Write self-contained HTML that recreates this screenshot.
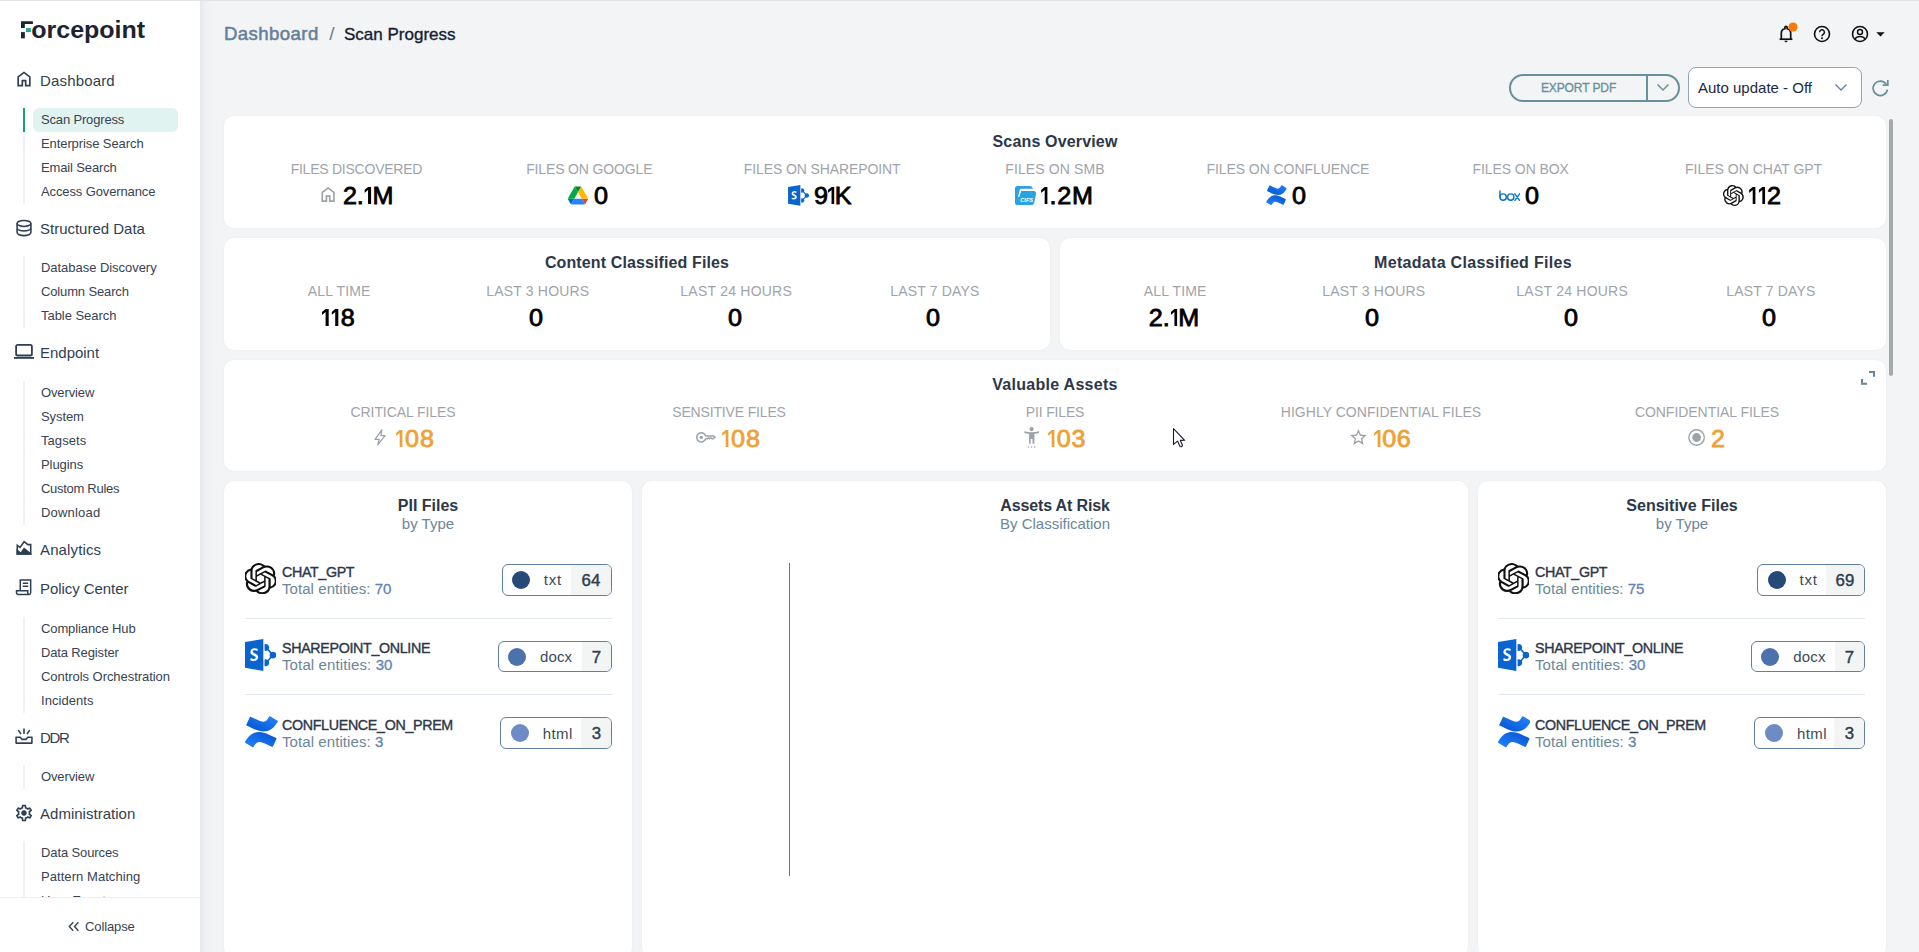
<!DOCTYPE html>
<html>
<head>
<meta charset="utf-8">
<title>Scan Progress</title>
<style>
*{box-sizing:border-box;margin:0;padding:0}
html,body{width:1919px;height:952px;overflow:hidden;background:#f3f4f6;font-family:"Liberation Sans",sans-serif;color:#2d3a4a}
body{position:relative}
.abs{position:absolute}
#topline{left:0;top:0;width:1919px;height:1px;background:#e3e3e3}
/* sidebar */
#side{left:0;top:1px;width:200px;height:951px;background:#fff}
#sideshadow{left:200px;top:1px;width:14px;height:951px;background:linear-gradient(to right,#e7e8ee 0,#eff0f4 40%,#f3f4f6 100%)}
.nav{position:absolute;left:0;width:200px;height:24px;line-height:24px;font-size:15px;color:#2f3f53;white-space:nowrap}
.nav span{position:absolute;left:40px;top:1px}
.nav svg{position:absolute}
.sub{position:absolute;left:41px;height:24px;line-height:24px;margin-top:1px;font-size:13px;color:#374353;white-space:nowrap}
.vl{position:absolute;left:23px;width:2px;background:#eef1f6}
/* cards */
.card{position:absolute;background:#fff;border-radius:10px;box-shadow:0 0 3px rgba(0,0,0,0.045)}
.ttl{position:absolute;left:0;right:0;text-align:center;font-weight:bold;font-size:16px;color:#2d3748;white-space:nowrap;line-height:20px}
.sttl{position:absolute;left:0;right:0;text-align:center;font-size:15px;color:#6b8799;white-space:nowrap;line-height:18px}
.lbl{position:absolute;width:300px;text-align:center;font-size:14px;line-height:18px;color:#a0a4aa;white-space:nowrap}
.val{position:absolute;font-size:23.5px;line-height:28px;color:#000;-webkit-text-stroke:0.8px #000;white-space:nowrap;transform:scaleX(1.07);transform-origin:0 0}
.val.c{width:300px;text-align:center;transform-origin:50% 0}
.val.o{color:#eea13a;-webkit-text-stroke-color:#eea13a}
.val .one{margin:0 -2.5px 0 -2px}
.nm{position:absolute;font-size:15.5px;line-height:18px;color:#2d3748;white-space:nowrap;transform:scaleX(0.92);transform-origin:0 0;-webkit-text-stroke:0.4px #2d3748}
.te{position:absolute;font-size:15.5px;line-height:18px;color:#6b8799;white-space:nowrap;transform:scaleX(0.97);transform-origin:0 0}
.te b{color:#6285b0;letter-spacing:0;font-weight:normal;-webkit-text-stroke:0.3px #6285b0}
.badge{position:absolute;border:1px solid #5f7fa3;border-radius:6px;background:#fff;overflow:hidden;white-space:nowrap;font-size:15px;color:#3a4a5c}
.badge i{position:absolute;width:18px;height:18px;border-radius:50%}
.badge .t{position:absolute;top:0}
.badge .n{position:absolute;right:0;top:0;bottom:0;background:#f3f5f5;text-align:center;font-size:16px;color:#2f3e4e;-webkit-text-stroke:0.400px #2f3e4e}
.badge .n span{display:inline-block;transform:scaleX(1.05);position:relative;top:1px}
.hr{position:absolute;left:21px;right:21px;height:1px;background:#e2e8f0}
</style>
</head>
<body>
<div id="topline" class="abs"></div>
<div id="side" class="abs"></div>
<div id="sideshadow" class="abs"></div>
<!--SIDEBAR-->
<!-- logo -->
<svg class="abs" style="left:20px;top:18px" width="130" height="30" viewBox="0 0 130 30">
<path d="M1 3.200H12.900V6.100H4.850V10.100H1Z" fill="#1c2430"/>
<rect x="1" y="14.100" width="3.850" height="6.250" fill="#1c2430"/>
<rect x="5.900" y="10.100" width="5" height="4" fill="#1fa898"/>
<text x="11.200" y="20.350" font-family="Liberation Sans, sans-serif" font-weight="bold" font-size="24.800" fill="#1c2430" textLength="114" lengthAdjust="spacingAndGlyphs">orcepoint</text>
</svg>
<!-- nav groups -->
<div class="nav" style="top:68px"><svg style="left:14px;top:1px" width="20" height="20" viewBox="0 0 24 24"><path fill="#2f3f53" d="M6 19h3v-6h6v6h3v-9l-6-4.5L6 10Zm-2 2V9l8-6 8 6v12h-7v-6h-2v6Z"/></svg><span style="letter-spacing:0.16px">Dashboard</span></div>
<div class="vl" style="top:108px;height:96px"></div>
<div class="abs" style="left:23px;top:108px;width:2px;height:24px;background:#169c85"></div>
<div class="abs" style="left:33px;top:108px;width:145px;height:24px;border-radius:6px;background:#e0f3f1"></div>
<div class="sub" style="top:107px;letter-spacing:-0.16px">Scan Progress</div>
<div class="sub" style="top:131px;letter-spacing:-0.09px">Enterprise Search</div>
<div class="sub" style="top:155px;letter-spacing:-0.14px">Email Search</div>
<div class="sub" style="top:179px;letter-spacing:-0.12px">Access Governance</div>

<div class="nav" style="top:216px"><svg style="left:14px;top:2px" width="20" height="20" viewBox="0 0 24 24" fill="none" stroke="#2f3f53" stroke-width="1.9"><ellipse cx="12" cy="6.5" rx="8.3" ry="3.6"/><path d="M3.700 6.5v11c0 2 3.700 3.600 8.300 3.600s8.300-1.600 8.300-3.600v-11M3.700 12c0 2 3.700 3.600 8.300 3.600s8.300-1.600 8.300-3.600"/></svg><span style="letter-spacing:-0.01px">Structured Data</span></div>
<div class="vl" style="top:256px;height:72px"></div>
<div class="sub" style="top:255px;letter-spacing:-0.04px">Database Discovery</div>
<div class="sub" style="top:279px;letter-spacing:-0.14px">Column Search</div>
<div class="sub" style="top:303px;letter-spacing:-0.04px">Table Search</div>

<div class="nav" style="top:340px"><svg style="left:14px;top:3px" width="20" height="17" viewBox="0 0 20 17"><rect x="2.100" y="1.900" width="15.800" height="10.600" rx="1.600" fill="none" stroke="#2f3f53" stroke-width="1.800"/><rect x="0" y="14" width="20" height="1.800" fill="#2f3f53"/></svg><span style="letter-spacing:-0.02px">Endpoint</span></div>
<div class="vl" style="top:381px;height:144px"></div>
<div class="sub" style="top:380px;letter-spacing:-0.13px">Overview</div>
<div class="sub" style="top:404px;letter-spacing:-0.08px">System</div>
<div class="sub" style="top:428px;letter-spacing:0.07px">Tagsets</div>
<div class="sub" style="top:452px;letter-spacing:-0.07px">Plugins</div>
<div class="sub" style="top:476px;letter-spacing:-0.29px">Custom Rules</div>
<div class="sub" style="top:500px;letter-spacing:0.20px">Download</div>

<div class="nav" style="top:537px"><svg style="left:14px;top:1px" width="20" height="20" viewBox="0 0 24 24"><path fill="none" stroke="#2f3f53" stroke-width="1.900" d="M3.950 8.900 7.200 11.300 12.200 4.400 16.700 7.950H20.050V19.050H3.950Z"/><path fill="#2f3f53" d="M3 13v7h18v-1.500l-9-7L8 17l-5-4z"/></svg><span style="letter-spacing:0.13px">Analytics</span></div>

<div class="nav" style="top:576px"><svg style="left:14px;top:1px" width="20" height="20" viewBox="0 0 24 24" fill="none" stroke="#2f3f53" stroke-width="1.800"><path d="M7.500 16.500V3.500h12.500v15.500a2 2 0 0 1-2 2H5a2 2 0 0 1-2-2v-2.500h13.500V19a1.800 1.800 0 0 0 1.800 2"/><path d="M10.500 7.500h6.500M10.500 11h6.500"/></svg><span style="letter-spacing:-0.06px">Policy Center</span></div>
<div class="vl" style="top:617px;height:96px"></div>
<div class="sub" style="top:616px;letter-spacing:-0.11px">Compliance Hub</div>
<div class="sub" style="top:640px;letter-spacing:-0.14px">Data Register</div>
<div class="sub" style="top:664px;letter-spacing:-0.05px">Controls Orchestration</div>
<div class="sub" style="top:688px;letter-spacing:0.05px">Incidents</div>

<div class="nav" style="top:725px"><svg style="left:14px;top:1px" width="20" height="20" viewBox="0 0 24 24" fill="none" stroke="#2f3f53" stroke-width="1.900" stroke-linecap="round"><path d="M2.500 13.500h5l2 2.500h5l2-2.500h5v7h-19z" stroke-linejoin="round"/><path d="M12 3.500v5.500M5.500 5.500l2.500 3.700M18.500 5.500l-2.500 3.700"/></svg><span style="letter-spacing:-1.28px">DDR</span></div>
<div class="vl" style="top:765px;height:24px"></div>
<div class="sub" style="top:764px;letter-spacing:-0.13px">Overview</div>

<div class="nav" style="top:801px"><svg style="left:14px;top:2px" width="20" height="20" viewBox="0 0 24 24"><path fill="#2f3f53" d="M19.430 12.980c.040-.320.070-.640.070-.980 0-.340-.030-.660-.070-.980l2.110-1.650c.190-.150.240-.420.120-.640l-2-3.460c-.090-.160-.260-.250-.440-.250-.060 0-.120.010-.170.030l-2.490 1c-.520-.400-1.080-.730-1.690-.980l-.380-2.650C14.460 2.180 14.250 2 14 2h-4c-.250 0-.460.180-.490.420l-.380 2.650c-.610.250-1.170.590-1.690.980l-2.490-1c-.060-.020-.120-.030-.180-.030-.170 0-.340.090-.430.250l-2 3.460c-.130.220-.070.490.120.640l2.110 1.650c-.040.320-.070.650-.070.980 0 .330.030.660.070.980l-2.110 1.650c-.190.150-.240.420-.120.640l2 3.460c.090.160.260.250.440.250.060 0 .120-.010.170-.030l2.490-1c.520.400 1.080.730 1.690.980l.380 2.650c.030.240.240.420.490.420h4c.250 0 .460-.180.490-.420l.380-2.650c.610-.250 1.170-.590 1.690-.980l2.490 1c.060.020.120.030.180.030.170 0 .340-.090.430-.250l2-3.460c.120-.220.070-.490-.120-.640l-2.110-1.650zm-1.980-1.710c.040.310.050.520.050.730 0 .210-.020.430-.050.730l-.140 1.130.890.700 1.080.840-.700 1.210-1.270-.510-1.040-.420-.900.680c-.430.320-.840.560-1.250.730l-1.060.430-.160 1.130-.200 1.350h-1.400l-.190-1.350-.160-1.130-1.060-.430c-.430-.180-.830-.410-1.230-.710l-.910-.700-1.060.430-1.270.510-.700-1.210 1.080-.840.890-.700-.140-1.130c-.030-.310-.050-.540-.050-.740s.020-.430.050-.730l.140-1.130-.890-.700-1.080-.840.700-1.210 1.270.510 1.040.420.900-.680c.430-.320.840-.560 1.250-.730l1.060-.430.160-1.130.200-1.350h1.390l.190 1.350.160 1.130 1.060.430c.430.180.830.410 1.230.710l.910.700 1.060-.430 1.270-.510.700 1.210-1.070.850-.890.700.140 1.130z"/><circle cx="12" cy="12" r="3.200" fill="#2f3f53"/></svg><span style="letter-spacing:0.02px">Administration</span></div>
<div class="vl" style="top:841px;height:56px"></div>
<div class="sub" style="top:840px;letter-spacing:-0.11px">Data Sources</div>
<div class="sub" style="top:864px;letter-spacing:0.06px">Pattern Matching</div>
<div class="abs" style="left:41px;top:888px;width:140px;height:9px;overflow:hidden"><div class="sub" style="left:0;top:0;letter-spacing:0.06px">User Events</div></div>
<div class="abs" style="left:0;top:897px;width:200px;height:1px;background:#eaedf5"></div>
<div class="abs" style="left:0;top:898px;width:200px;height:54px;background:#fff"></div>
<div class="sub" style="left:85px;top:914px;letter-spacing:-0.11px">Collapse</div>
<svg class="abs" style="left:68px;top:921px" width="12" height="11" viewBox="0 0 12 11" fill="none" stroke="#374353" stroke-width="1.400"><path d="M5.200 1.200 1.300 5.500l3.900 4.300M10.400 1.200 6.500 5.500l3.900 4.300"/></svg>
<!--/SIDEBAR-->
<!--HEADER-->
<div class="abs" id="bc1" style="left:224px;top:20.600px;font-size:18.600px;letter-spacing:0.420px;line-height:26px;color:#64809a;white-space:nowrap;-webkit-text-stroke:0.500px #64809a">Dashboard</div>
<div class="abs" id="bc2" style="left:329.300px;top:21px;font-size:19px;line-height:26px;color:#64809a;white-space:nowrap">/</div>
<div class="abs" id="bc3" style="left:344px;top:22px;font-size:17px;line-height:26px;color:#161d33;white-space:nowrap;-webkit-text-stroke:0.350px #161d33">Scan Progress</div>
<!-- bell -->
<svg class="abs" style="left:1776px;top:23px;overflow:visible" width="20" height="22" viewBox="0 0 20 22"><path d="M5.300 16.200V10.300a4.700 4.700 0 0 1 3.600-4.700V4.500a1.100 1.100 0 0 1 2.200 0v1.100a4.700 4.700 0 0 1 3.600 4.700v5.900" fill="none" stroke="#111" stroke-width="1.700"/><path d="M3.600 16.200h12.800" stroke="#111" stroke-width="1.700"/><path d="M8.500 17.800h3a1.500 1.500 0 0 1-3 0z" fill="#111"/><circle cx="17" cy="4" r="4.600" fill="#fb7a09"/></svg>
<!-- help -->
<svg class="abs" style="left:1812px;top:24px" width="20" height="20" viewBox="0 0 20 20"><circle cx="10" cy="10" r="7.500" fill="none" stroke="#111" stroke-width="1.600"/><path d="M7.600 8.200a2.400 2.400 0 1 1 3.600 2.100c-.8.500-1.200 1-1.200 1.900" fill="none" stroke="#111" stroke-width="1.500"/><circle cx="10" cy="14.200" r="1" fill="#111"/></svg>
<!-- account -->
<svg class="abs" style="left:1850px;top:24px" width="20" height="20" viewBox="0 0 20 20"><circle cx="10" cy="10" r="7.500" fill="none" stroke="#111" stroke-width="1.600"/><circle cx="10" cy="8" r="2.500" fill="none" stroke="#111" stroke-width="1.500"/><path d="M4.800 15.200c1.200-2 3-2.800 5.200-2.800s4 .8 5.200 2.800" fill="none" stroke="#111" stroke-width="1.500"/></svg>
<svg class="abs" style="left:1875.700px;top:32px" width="9" height="5" viewBox="0 0 9 5"><path d="M0.300 0.300h8.400L4.500 4.600z" fill="#111"/></svg>
<!-- export -->
<div class="abs" style="left:1509px;top:74px;width:171px;height:28px;border:2px solid #66909b;border-radius:14px"></div>
<div class="abs" style="left:1646px;top:75px;width:2px;height:26px;background:#66909b"></div>
<div class="abs" id="exp" style="left:1511px;top:74px;width:135px;height:28px;line-height:28px;text-align:center;font-size:12px;letter-spacing:-0.100px;color:#66909b;white-space:nowrap;-webkit-text-stroke:0.300px #66909b">EXPORT PDF</div>
<svg class="abs" style="left:1656px;top:83px" width="14" height="9" viewBox="0 0 14 9"><path d="M1.500 1.500 7 7l5.500-5.500" fill="none" stroke="#66909b" stroke-width="1.500"/></svg>
<!-- select -->
<div class="abs" style="left:1688px;top:67px;width:174px;height:41px;border:1px solid #93a3ba;border-radius:8px;background:#fff"></div>
<div class="abs" id="au" style="left:1698px;top:67px;height:41px;line-height:41px;font-size:15px;color:#1c2745;white-space:nowrap">Auto update - Off</div>
<svg class="abs" style="left:1834px;top:83px" width="14" height="9" viewBox="0 0 14 9"><path d="M1.500 1.500 7 7l5.500-5.500" fill="none" stroke="#66809a" stroke-width="1.300"/></svg>
<!-- refresh -->
<svg class="abs" style="left:1870px;top:78px" width="20" height="20" viewBox="0 0 20 20"><path d="M16.200 6.200A7.200 7.200 0 1 0 17.400 11.600" fill="none" stroke="#66909b" stroke-width="1.700"/><path d="M17.800 2v5.200h-5.200" fill="none" stroke="#66909b" stroke-width="1.700"/></svg>
<!-- scrollbar -->
<div class="abs" style="left:1889px;top:119px;width:4px;height:257px;border-radius:2px;background:#a4aaa9"></div>
<!--/HEADER-->
<!--CARDS-->
<div class="card" style="left:224px;top:116px;width:1662px;height:112px">
<div class="ttl" style="top:16px;letter-spacing:0.16px">Scans Overview</div>
<div class="lbl" style="left:-17.6px;top:43.6px;letter-spacing:-0.24px">FILES DISCOVERED</div>
<svg class="abs" style="left:97.0px;top:71.0px" width="14.2" height="15.0" viewBox="4 3 16 18" ><path fill="#9ca2a8" d="M6 19h3v-6h6v6h3v-9l-6-4.500L6 10Zm-2 2V9l8-6 8 6v12h-7v-6h-2v6Z"/></svg>
<div class="val" style="left:118.85px;top:65.86px"><span style="margin-right:-0.15px">2</span><span style="margin-right:-0.15px">.</span><svg width="6.3" height="17.100" viewBox="0 0 6.300 17.100" style="margin:0 0.85px 0 1.0px"><path fill="currentColor" d="M3.400 0H6.300V17.100H3.400V3.100L0 5.900V2.900Z"/></svg>M</div>
<div class="lbl" style="left:215.3px;top:43.6px;letter-spacing:-0.14px">FILES ON GOOGLE</div>
<svg class="abs" style="left:343.9px;top:70.0px" width="20.0" height="19.0" viewBox="0 0 87.3 78" ><path d="m6.600 66.850 3.850 6.650c.8 1.400 1.950 2.500 3.300 3.300l13.750-23.800h-27.500c0 1.550.4 3.100 1.200 4.500z" fill="#0066da"/><path d="m43.650 25-13.750-23.800c-1.350.8-2.500 1.900-3.300 3.300l-25.400 44a9.060 9.060 0 0 0 -1.200 4.500h27.500z" fill="#00ac47"/><path d="m73.550 76.800c1.350-.8 2.500-1.900 3.300-3.300l1.600-2.750 7.650-13.250c.8-1.400 1.200-2.950 1.200-4.500h-27.502l5.852 11.500z" fill="#ea4335"/><path d="m43.650 25 13.750-23.800c-1.350-.8-2.900-1.200-4.500-1.200h-18.500c-1.600 0-3.150.45-4.500 1.200z" fill="#00832d"/><path d="m59.800 53h-32.300l-13.750 23.800c1.350.8 2.900 1.200 4.500 1.200h50.800c1.600 0 3.150-.45 4.500-1.200z" fill="#2684fc"/><path d="m73.400 26.500-12.700-22c-.8-1.400-1.950-2.500-3.300-3.300l-13.750 23.800 16.150 28h27.450c0-1.550-.4-3.100-1.200-4.500z" fill="#ffba00"/></svg>
<div class="val" style="left:369.67px;top:65.86px">0</div>
<div class="lbl" style="left:448.1px;top:43.6px;letter-spacing:-0.11px">FILES ON SHAREPOINT</div>
<svg class="abs" style="left:563.9px;top:68.9px" width="21.1" height="21.0" viewBox="0 0 21 21" ><path d="M0 1.970 12.300 0v20.840L0 18.830z" fill="#0a64cf"/><path d="M13.120 3.450A2.230 2.230 0 1 1 13.120 7.570z" fill="#0a64cf"/><path d="M13.120 13.430A2.230 2.230 0 1 1 13.120 17.550z" fill="#0a64cf"/><circle cx="18.770" cy="10.500" r="2.230" fill="#0a64cf"/><path d="M14.800 6.200l3.600 4M14.800 14.800l3.600-4" stroke="#0a64cf" stroke-width="1.050" fill="none"/><path d="M7.700 7.900c-.5-.3-1.200-.5-1.900-.5-.8 0-1.200.3-1.200.8 0 .6.500.8 1.500 1.200 1.300.5 2.100 1.200 2.100 2.500 0 1.600-1.300 2.500-3 2.500-.9 0-1.700-.2-2.300-.6l.4-1.400c.6.300 1.300.6 2 .6.800 0 1.300-.4 1.300-.9s-.4-.8-1.400-1.200C3.900 10.400 3 9.700 3 8.500 3 7 4.200 6 5.900 6c.9 0 1.600.2 2.100.5z" fill="#fff" transform="translate(.6 0)"/></svg>
<div class="val" style="left:590.25px;top:65.86px"><span style="margin-right:-1.00px">9</span><svg width="6.3" height="17.100" viewBox="0 0 6.300 17.100" style="margin:0 0.00px 0 1.0px"><path fill="currentColor" d="M3.400 0H6.300V17.100H3.400V3.100L0 5.900V2.900Z"/></svg>K</div>
<div class="lbl" style="left:681.0px;top:43.6px;letter-spacing:0.12px">FILES ON SMB</div>
<svg class="abs" style="left:791.0px;top:70.0px" width="21.0" height="19.0" viewBox="0 0 21 19" ><path d="M2.600 0H15c1.400 0 2.400 1 2.900 2.800V5h.7c1.600 0 2.700 1.300 2.400 2.900l-1.700 8.500c-.3 1.500-1.400 2.600-3 2.600H2.600A2.600 2.600 0 0 1 0 16.400V2.600A2.600 2.600 0 0 1 2.600 0z" fill="#2aa2e6"/><path d="M18.200 2.800H6.500c-1 0-1.600.6-1.900 1.600L3.100 10.300c-.1.500.2.800.6.800s.7-.3.800-.7L6.200 5h12z" fill="#fff"/><text x="11.700" y="16" text-anchor="middle" font-family="Liberation Sans, sans-serif" font-weight="bold" font-style="italic" font-size="5.600" fill="#fff">CIFS</text></svg>
<div class="val" style="left:816.33px;top:65.86px"><svg width="6.3" height="17.100" viewBox="0 0 6.300 17.100" style="margin:0 1.70px 0 1.0px"><path fill="currentColor" d="M3.400 0H6.300V17.100H3.400V3.100L0 5.900V2.900Z"/></svg><span style="margin-right:0.70px">.</span><span style="margin-right:0.70px">2</span>M</div>
<div class="lbl" style="left:913.9px;top:43.6px;letter-spacing:-0.06px">FILES ON CONFLUENCE</div>
<svg class="abs" style="left:1042.0px;top:69.2px" width="20.9" height="20.4" viewBox="0 0 24 24" ><defs><linearGradient id="cg1" x1="0" y1="1" x2="1" y2="0"><stop offset="0" stop-color="#2684ff"/><stop offset="1" stop-color="#0052cc"/></linearGradient><linearGradient id="cg2" x1="1" y1="0" x2="0" y2="1"><stop offset="0" stop-color="#2684ff"/><stop offset="1" stop-color="#0052cc"/></linearGradient></defs><path fill="url(#cg1)" d="M.87 18.257c-.248.382-.53.875-.763 1.245a.764.764 0 0 0 .255 1.040l4.965 3.054a.764.764 0 0 0 1.058-.26c.199-.332.454-.763.733-1.221 1.967-3.247 3.945-2.853 7.508-1.146l4.957 2.337a.764.764 0 0 0 1.028-.382l2.364-5.346a.764.764 0 0 0-.382-1 599.851 599.851 0 0 1-4.965-2.361C10.911 10.970 5.224 11.185.870 18.257z"/><path fill="url(#cg2)" d="M23.131 5.743c.249-.405.531-.875.764-1.250a.764.764 0 0 0-.256-1.034L18.675.404a.764.764 0 0 0-1.058.26c-.195.335-.451.763-.734 1.225-1.966 3.246-3.945 2.850-7.508 1.146L4.437.694a.764.764 0 0 0-1.027.382L1.046 6.422a.764.764 0 0 0 .382 1c1.039.490 3.105 1.467 4.965 2.361 6.698 3.246 12.392 3.029 16.738-4.040z"/></svg>
<div class="val" style="left:1068.16px;top:65.86px">0</div>
<div class="lbl" style="left:1146.7px;top:43.6px;letter-spacing:-0.08px">FILES ON BOX</div>
<svg class="abs" style="left:1274.7px;top:73.8px" width="21.5" height="11.2" viewBox="0 0 22 11.500" ><g fill="none" stroke="#0e79c5" stroke-width="1.500" stroke-linecap="round"><path d="M.9 .9v6.500"/><circle cx="4.200" cy="7.300" r="3.300"/><circle cx="12" cy="7.300" r="3.300"/><path d="M16.300 4l4.800 6.600M21.100 4l-4.800 6.600"/></g></svg>
<div class="val" style="left:1300.66px;top:65.86px">0</div>
<div class="lbl" style="left:1379.6px;top:43.6px;letter-spacing:-0.00px">FILES ON CHAT GPT</div>
<svg class="abs" style="left:1499.0px;top:69.0px" width="21.0" height="21.0" viewBox="0.8 0 22.600 24" ><path fill="#111" d="M22.2819 9.8211a5.9847 5.9847 0 0 0-.5157-4.9108 6.0462 6.0462 0 0 0-6.5098-2.9A6.0651 6.0651 0 0 0 4.9807 4.1818a5.9847 5.9847 0 0 0-3.9977 2.9 6.0462 6.0462 0 0 0 .7427 7.0966 5.98 5.98 0 0 0 .511 4.9107 6.051 6.051 0 0 0 6.5146 2.9001A5.9847 5.9847 0 0 0 13.2599 24a6.0557 6.0557 0 0 0 5.7718-4.2058 5.9894 5.9894 0 0 0 3.9977-2.9001 6.0557 6.0557 0 0 0-.7475-7.0729zm-9.022 12.6081a4.4755 4.4755 0 0 1-2.8764-1.0408l.1419-.0804 4.7783-2.7582a.7948.7948 0 0 0 .3927-.6813v-6.7369l2.02 1.1686a.071.071 0 0 1 .038.052v5.5826a4.504 4.504 0 0 1-4.4945 4.4944zm-9.6607-4.1254a4.4708 4.4708 0 0 1-.5346-3.0137l.142.0852 4.783 2.7582a.7712.7712 0 0 0 .7806 0l5.8428-3.3685v2.3324a.0804.0804 0 0 1-.0332.0615L9.74 19.9502a4.4992 4.4992 0 0 1-6.1408-1.6464zM2.3408 7.8956a4.485 4.485 0 0 1 2.3655-1.9728V11.6a.7664.7664 0 0 0 .3879.6765l5.8144 3.3543-2.0201 1.1685a.0757.0757 0 0 1-.071 0l-4.8303-2.7865A4.504 4.504 0 0 1 2.3408 7.872zm16.5963 3.8558L13.1038 8.364 15.1192 7.2a.0757.0757 0 0 1 .071 0l4.8303 2.7913a4.4944 4.4944 0 0 1-.6765 8.1042v-5.6772a.79.79 0 0 0-.407-.667zm2.0107-3.0231l-.142-.0852-4.7735-2.7818a.7759.7759 0 0 0-.7854 0L9.409 9.2297V6.8974a.0662.0662 0 0 1 .0284-.0615l4.8303-2.7866a4.4992 4.4992 0 0 1 6.6802 4.66zM8.3065 12.863l-2.02-1.1638a.0804.0804 0 0 1-.038-.0567V6.0742a4.4992 4.4992 0 0 1 7.3757-3.4537l-.142.0805L8.704 5.459a.7948.7948 0 0 0-.3927.6813zm1.0976-2.3654l2.602-1.4998 2.6069 1.4998v2.9994l-2.5974 1.4997-2.6067-1.4997Z"/></svg>
<div class="val" style="left:1524.43px;top:65.86px"><svg width="6.3" height="17.100" viewBox="0 0 6.300 17.100" style="margin:0 1.63px 0 1.0px"><path fill="currentColor" d="M3.400 0H6.300V17.100H3.400V3.100L0 5.900V2.900Z"/></svg><svg width="6.3" height="17.100" viewBox="0 0 6.300 17.100" style="margin:0 1.63px 0 1.0px"><path fill="currentColor" d="M3.400 0H6.300V17.100H3.400V3.100L0 5.900V2.900Z"/></svg>2</div>

</div>
<div class="card" style="left:224px;top:238px;width:826px;height:112px">
<div class="ttl" style="top:15px;letter-spacing:0.12px">Content Classified Files</div>
<div class="lbl" style="left:-34.8px;top:43.6px;letter-spacing:0.16px">ALL TIME</div>
<div class="val c" style="left:-36.5px;top:66.36px"><svg width="6.3" height="17.100" viewBox="0 0 6.300 17.100" style="margin:0 1.90px 0 1.0px"><path fill="currentColor" d="M3.400 0H6.300V17.100H3.400V3.100L0 5.900V2.900Z"/></svg><svg width="6.3" height="17.100" viewBox="0 0 6.300 17.100" style="margin:0 1.90px 0 1.0px"><path fill="currentColor" d="M3.400 0H6.300V17.100H3.400V3.100L0 5.900V2.900Z"/></svg>8</div>
<div class="lbl" style="left:163.8px;top:43.6px;letter-spacing:0.19px">LAST 3 HOURS</div>
<div class="val c" style="left:162.1px;top:66.36px">0</div>
<div class="lbl" style="left:362.2px;top:43.6px;letter-spacing:0.23px">LAST 24 HOURS</div>
<div class="val c" style="left:360.6px;top:66.36px">0</div>
<div class="lbl" style="left:560.8px;top:43.6px;letter-spacing:0.16px">LAST 7 DAYS</div>
<div class="val c" style="left:559.0px;top:66.36px">0</div>

</div>
<div class="card" style="left:1060px;top:238px;width:826px;height:112px">
<div class="ttl" style="top:15px;letter-spacing:0.30px">Metadata Classified Files</div>
<div class="lbl" style="left:-34.8px;top:43.6px;letter-spacing:0.16px">ALL TIME</div>
<div class="val c" style="left:-36.5px;top:66.36px"><span style="margin-right:-0.15px">2</span><span style="margin-right:-0.15px">.</span><svg width="6.3" height="17.100" viewBox="0 0 6.300 17.100" style="margin:0 0.85px 0 1.0px"><path fill="currentColor" d="M3.400 0H6.300V17.100H3.400V3.100L0 5.900V2.900Z"/></svg>M</div>
<div class="lbl" style="left:163.8px;top:43.6px;letter-spacing:0.19px">LAST 3 HOURS</div>
<div class="val c" style="left:162.1px;top:66.36px">0</div>
<div class="lbl" style="left:362.2px;top:43.6px;letter-spacing:0.23px">LAST 24 HOURS</div>
<div class="val c" style="left:360.6px;top:66.36px">0</div>
<div class="lbl" style="left:560.8px;top:43.6px;letter-spacing:0.16px">LAST 7 DAYS</div>
<div class="val c" style="left:559.0px;top:66.36px">0</div>

</div>
<div class="card" style="left:224px;top:360px;width:1662px;height:111px">
<div class="ttl" style="top:15px;letter-spacing:0.28px">Valuable Assets</div>
<div class="lbl" style="left:29.0px;top:43px;letter-spacing:-0.08px">CRITICAL FILES</div>
<svg class="abs" style="left:149.5px;top:69.0px" width="12.3" height="17.0" viewBox="0 0 12.500 17" ><path d="M8 .8 1 10.300h4.300L3.800 16 11.300 6.600H7z" fill="none" stroke="#9ca2a8" stroke-width="1.300" stroke-linejoin="round"/></svg>
<div class="val o" style="left:171.03px;top:64.86px"><svg width="6.3" height="17.100" viewBox="0 0 6.300 17.100" style="margin:0 1.95px 0 1.0px"><path fill="currentColor" d="M3.400 0H6.300V17.100H3.400V3.100L0 5.900V2.900Z"/></svg><span style="margin-right:0.95px">0</span>8</div>
<div class="lbl" style="left:355.0px;top:43px;letter-spacing:-0.16px">SENSITIVE FILES</div>
<svg class="abs" style="left:472.2px;top:72.2px" width="20.0" height="10.7" viewBox="0 0 20 10.700" ><path d="M9.700 3.900a4.600 4.600 0 1 0 0 2.900h1.500l1.200-1.100 1.200 1.100 1.200-1.100 1.200 1.100h.9L19 5.400l-1.700-1.500z" fill="none" stroke="#9ca2a8" stroke-width="1.500" stroke-linejoin="round"/><circle cx="5.300" cy="5.350" r="1.700" fill="#9ca2a8"/></svg>
<div class="val o" style="left:496.83px;top:64.86px"><svg width="6.3" height="17.100" viewBox="0 0 6.300 17.100" style="margin:0 1.95px 0 1.0px"><path fill="currentColor" d="M3.400 0H6.300V17.100H3.400V3.100L0 5.900V2.900Z"/></svg><span style="margin-right:0.95px">0</span>8</div>
<div class="lbl" style="left:681.0px;top:43px;letter-spacing:-0.15px">PII FILES</div>
<svg class="abs" style="left:800.0px;top:67.0px" width="15.2" height="21.0" viewBox="0 0 15 21" ><circle cx="7.500" cy="2.100" r="2.100" fill="#9ca2a8"/><path d="M.3 4.300c2.400.6 4.800.9 7.200.9s4.800-.3 7.200-.9l.4 1.700c-1.600.4-3.200.7-4.800.9v9.900H8.400v-4.700H6.600v4.700H5V6.900C3.400 6.700 1.800 6.400.2 6z" fill="#9ca2a8"/><rect x="3.700" y="19.400" width="1.300" height="1.300" fill="#9ca2a8"/><rect x="6.850" y="19.400" width="1.300" height="1.300" fill="#9ca2a8"/><rect x="10" y="19.400" width="1.300" height="1.300" fill="#9ca2a8"/></svg>
<div class="val o" style="left:823.23px;top:64.86px"><svg width="6.3" height="17.100" viewBox="0 0 6.300 17.100" style="margin:0 1.76px 0 1.0px"><path fill="currentColor" d="M3.400 0H6.300V17.100H3.400V3.100L0 5.900V2.900Z"/></svg><span style="margin-right:0.76px">0</span>3</div>
<div class="lbl" style="left:1007.0px;top:43px;letter-spacing:0.03px">HIGHLY CONFIDENTIAL FILES</div>
<svg class="abs" style="left:1125.9px;top:69.1px" width="16.9" height="15.9" viewBox="2 2 20 19" ><path fill="#9ca2a8" d="m22 9.240-7.190-.62L12 2 9.190 8.630 2 9.240l5.460 4.730L5.820 21 12 17.270 18.180 21l-1.630-7.030L22 9.240zM12 15.400l-3.760 2.270 1-4.280-3.320-2.880 4.380-.38L12 6.100l1.710 4.040 4.380.38-3.320 2.880 1 4.280L12 15.400z"/></svg>
<div class="val o" style="left:1149.33px;top:64.86px"><svg width="6.3" height="17.100" viewBox="0 0 6.300 17.100" style="margin:0 1.39px 0 1.0px"><path fill="currentColor" d="M3.400 0H6.300V17.100H3.400V3.100L0 5.900V2.900Z"/></svg><span style="margin-right:0.39px">0</span>6</div>
<div class="lbl" style="left:1333.0px;top:43px;letter-spacing:-0.04px">CONFIDENTIAL FILES</div>
<svg class="abs" style="left:1463.6px;top:69.1px" width="17.2" height="17.0" viewBox="0 0 17 17" ><circle cx="8.500" cy="8.500" r="7.700" fill="none" stroke="#9ca2a8" stroke-width="1.400"/><circle cx="8.500" cy="8.500" r="4.400" fill="#9ca2a8"/></svg>
<div class="val o" style="left:1487.35px;top:64.86px">2</div>
<svg class="abs" style="left:1630px;top:5px" width="26" height="26" viewBox="1630 5 26 26" fill="none" stroke="#6a8797" stroke-width="2"><path d="M1645 12h5v4.800M1638 19v4.800h5"/></svg>
</div>
<div class="card" style="left:224px;top:481px;width:408px;height:476px">
<div class="ttl" style="top:15px;letter-spacing:-0.01px">PII Files</div><div class="sttl" style="top:34px">by Type</div>
<svg class="abs" style="left:21.2px;top:82.0px" width="31.3" height="31.3" viewBox="0.8 0 22.600 24" preserveAspectRatio="none"><path fill="#111" d="M22.2819 9.8211a5.9847 5.9847 0 0 0-.5157-4.9108 6.0462 6.0462 0 0 0-6.5098-2.9A6.0651 6.0651 0 0 0 4.9807 4.1818a5.9847 5.9847 0 0 0-3.9977 2.9 6.0462 6.0462 0 0 0 .7427 7.0966 5.98 5.98 0 0 0 .511 4.9107 6.051 6.051 0 0 0 6.5146 2.9001A5.9847 5.9847 0 0 0 13.2599 24a6.0557 6.0557 0 0 0 5.7718-4.2058 5.9894 5.9894 0 0 0 3.9977-2.9001 6.0557 6.0557 0 0 0-.7475-7.0729zm-9.022 12.6081a4.4755 4.4755 0 0 1-2.8764-1.0408l.1419-.0804 4.7783-2.7582a.7948.7948 0 0 0 .3927-.6813v-6.7369l2.02 1.1686a.071.071 0 0 1 .038.052v5.5826a4.504 4.504 0 0 1-4.4945 4.4944zm-9.6607-4.1254a4.4708 4.4708 0 0 1-.5346-3.0137l.142.0852 4.783 2.7582a.7712.7712 0 0 0 .7806 0l5.8428-3.3685v2.3324a.0804.0804 0 0 1-.0332.0615L9.74 19.9502a4.4992 4.4992 0 0 1-6.1408-1.6464zM2.3408 7.8956a4.485 4.485 0 0 1 2.3655-1.9728V11.6a.7664.7664 0 0 0 .3879.6765l5.8144 3.3543-2.0201 1.1685a.0757.0757 0 0 1-.071 0l-4.8303-2.7865A4.504 4.504 0 0 1 2.3408 7.872zm16.5963 3.8558L13.1038 8.364 15.1192 7.2a.0757.0757 0 0 1 .071 0l4.8303 2.7913a4.4944 4.4944 0 0 1-.6765 8.1042v-5.6772a.79.79 0 0 0-.407-.667zm2.0107-3.0231l-.142-.0852-4.7735-2.7818a.7759.7759 0 0 0-.7854 0L9.409 9.2297V6.8974a.0662.0662 0 0 1 .0284-.0615l4.8303-2.7866a4.4992 4.4992 0 0 1 6.6802 4.66zM8.3065 12.863l-2.02-1.1638a.0804.0804 0 0 1-.038-.0567V6.0742a4.4992 4.4992 0 0 1 7.3757-3.4537l-.142.0805L8.704 5.459a.7948.7948 0 0 0-.3927.6813zm1.0976-2.3654l2.602-1.4998 2.6069 1.4998v2.9994l-2.5974 1.4997-2.6067-1.4997Z"/></svg>
<div class="nm" style="left:57.8px;top:81.85px;letter-spacing:-0.39px">CHAT_GPT</div>
<div class="te" style="left:57.9px;top:98.93px;letter-spacing:0.05px">Total entities: <b>70</b></div>
<div class="badge" style="right:20.00px;top:83.0px;width:110px;height:32px"><i style="left:9px;top:6.0px;background:#264a78"></i><span class="t" style="left:40.8px;line-height:30.6px;letter-spacing:0.77px">txt</span><span class="n" style="width:40.1px;line-height:30.6px"><span>64</span></span></div>
<div class="hr" style="left:21.0px;right:20.00px;top:137px"></div>
<svg class="abs" style="left:21.2px;top:157.8px" width="31.3" height="32.2" viewBox="0 0 21 21" preserveAspectRatio="none"><path d="M0 1.970 12.300 0v20.840L0 18.830z" fill="#0a64cf"/><path d="M13.120 3.450A2.230 2.230 0 1 1 13.120 7.570z" fill="#0a64cf"/><path d="M13.120 13.430A2.230 2.230 0 1 1 13.120 17.550z" fill="#0a64cf"/><circle cx="18.770" cy="10.500" r="2.230" fill="#0a64cf"/><path d="M14.800 6.200l3.600 4M14.800 14.800l3.600-4" stroke="#0a64cf" stroke-width="1.050" fill="none"/><path d="M7.700 7.900c-.5-.3-1.200-.5-1.900-.5-.8 0-1.200.3-1.200.8 0 .6.500.8 1.500 1.200 1.300.5 2.100 1.200 2.100 2.500 0 1.600-1.300 2.500-3 2.500-.9 0-1.700-.2-2.300-.6l.4-1.400c.6.300 1.300.6 2 .6.800 0 1.300-.4 1.300-.9s-.4-.8-1.400-1.200C3.900 10.400 3 9.700 3 8.500 3 7 4.200 6 5.900 6c.9 0 1.600.2 2.100.5z" fill="#fff" transform="translate(.6 0)"/></svg>
<div class="nm" style="left:57.8px;top:158.45px;letter-spacing:-0.36px">SHAREPOINT_ONLINE</div>
<div class="te" style="left:57.9px;top:174.93px;letter-spacing:0.11px">Total entities: <b>30</b></div>
<div class="badge" style="right:20.00px;top:160.0px;width:114px;height:31px"><i style="left:9px;top:5.5px;background:#4c72ae"></i><span class="t" style="left:41.0px;line-height:29.6px;letter-spacing:0.14px">docx</span><span class="n" style="width:29.3px;line-height:29.6px"><span>7</span></span></div>
<div class="hr" style="left:21.0px;right:20.00px;top:213px"></div>
<svg class="abs" style="left:21.0px;top:235.3px" width="32.7" height="31.6" viewBox="0 0 24 24" preserveAspectRatio="none"><defs><linearGradient id="cg1" x1="0" y1="1" x2="1" y2="0"><stop offset="0" stop-color="#2684ff"/><stop offset="1" stop-color="#0052cc"/></linearGradient><linearGradient id="cg2" x1="1" y1="0" x2="0" y2="1"><stop offset="0" stop-color="#2684ff"/><stop offset="1" stop-color="#0052cc"/></linearGradient></defs><path fill="url(#cg1)" d="M.87 18.257c-.248.382-.53.875-.763 1.245a.764.764 0 0 0 .255 1.040l4.965 3.054a.764.764 0 0 0 1.058-.26c.199-.332.454-.763.733-1.221 1.967-3.247 3.945-2.853 7.508-1.146l4.957 2.337a.764.764 0 0 0 1.028-.382l2.364-5.346a.764.764 0 0 0-.382-1 599.851 599.851 0 0 1-4.965-2.361C10.911 10.970 5.224 11.185.870 18.257z"/><path fill="url(#cg2)" d="M23.131 5.743c.249-.405.531-.875.764-1.250a.764.764 0 0 0-.256-1.034L18.675.404a.764.764 0 0 0-1.058.26c-.195.335-.451.763-.734 1.225-1.966 3.246-3.945 2.850-7.508 1.146L4.437.694a.764.764 0 0 0-1.027.382L1.046 6.422a.764.764 0 0 0 .382 1c1.039.490 3.105 1.467 4.965 2.361 6.698 3.246 12.392 3.029 16.738-4.040z"/></svg>
<div class="nm" style="left:57.8px;top:235.35px;letter-spacing:-0.35px">CONFLUENCE_ON_PREM</div>
<div class="te" style="left:57.9px;top:251.83px;letter-spacing:0.07px">Total entities: <b>3</b></div>
<div class="badge" style="right:20.00px;top:236.0px;width:112px;height:32px"><i style="left:9.9px;top:6.0px;background:#6e8bc6"></i><span class="t" style="left:41.7px;line-height:32.2px;letter-spacing:0.43px">html</span><span class="n" style="width:30.0px;line-height:30.6px"><span>3</span></span></div>
</div>
<div class="card" style="left:642px;top:481px;width:826px;height:476px"><div class="ttl" style="top:15px;letter-spacing:-0.14px">Assets At Risk</div><div class="sttl" style="top:34px">By Classification</div><div class="abs" style="left:147px;top:82px;width:1px;height:313px;background:#6e7380"></div></div>
<div class="card" style="left:1478px;top:481px;width:408px;height:476px">
<div class="ttl" style="top:15px;letter-spacing:0.02px">Sensitive Files</div><div class="sttl" style="top:34px">by Type</div>
<svg class="abs" style="left:19.9px;top:82.0px" width="31.3" height="31.3" viewBox="0.8 0 22.600 24" preserveAspectRatio="none"><path fill="#111" d="M22.2819 9.8211a5.9847 5.9847 0 0 0-.5157-4.9108 6.0462 6.0462 0 0 0-6.5098-2.9A6.0651 6.0651 0 0 0 4.9807 4.1818a5.9847 5.9847 0 0 0-3.9977 2.9 6.0462 6.0462 0 0 0 .7427 7.0966 5.98 5.98 0 0 0 .511 4.9107 6.051 6.051 0 0 0 6.5146 2.9001A5.9847 5.9847 0 0 0 13.2599 24a6.0557 6.0557 0 0 0 5.7718-4.2058 5.9894 5.9894 0 0 0 3.9977-2.9001 6.0557 6.0557 0 0 0-.7475-7.0729zm-9.022 12.6081a4.4755 4.4755 0 0 1-2.8764-1.0408l.1419-.0804 4.7783-2.7582a.7948.7948 0 0 0 .3927-.6813v-6.7369l2.02 1.1686a.071.071 0 0 1 .038.052v5.5826a4.504 4.504 0 0 1-4.4945 4.4944zm-9.6607-4.1254a4.4708 4.4708 0 0 1-.5346-3.0137l.142.0852 4.783 2.7582a.7712.7712 0 0 0 .7806 0l5.8428-3.3685v2.3324a.0804.0804 0 0 1-.0332.0615L9.74 19.9502a4.4992 4.4992 0 0 1-6.1408-1.6464zM2.3408 7.8956a4.485 4.485 0 0 1 2.3655-1.9728V11.6a.7664.7664 0 0 0 .3879.6765l5.8144 3.3543-2.0201 1.1685a.0757.0757 0 0 1-.071 0l-4.8303-2.7865A4.504 4.504 0 0 1 2.3408 7.872zm16.5963 3.8558L13.1038 8.364 15.1192 7.2a.0757.0757 0 0 1 .071 0l4.8303 2.7913a4.4944 4.4944 0 0 1-.6765 8.1042v-5.6772a.79.79 0 0 0-.407-.667zm2.0107-3.0231l-.142-.0852-4.7735-2.7818a.7759.7759 0 0 0-.7854 0L9.409 9.2297V6.8974a.0662.0662 0 0 1 .0284-.0615l4.8303-2.7866a4.4992 4.4992 0 0 1 6.6802 4.66zM8.3065 12.863l-2.02-1.1638a.0804.0804 0 0 1-.038-.0567V6.0742a4.4992 4.4992 0 0 1 7.3757-3.4537l-.142.0805L8.704 5.459a.7948.7948 0 0 0-.3927.6813zm1.0976-2.3654l2.602-1.4998 2.6069 1.4998v2.9994l-2.5974 1.4997-2.6067-1.4997Z"/></svg>
<div class="nm" style="left:56.5px;top:81.85px;letter-spacing:-0.39px">CHAT_GPT</div>
<div class="te" style="left:56.6px;top:98.93px;letter-spacing:0.05px">Total entities: <b>75</b></div>
<div class="badge" style="right:20.71px;top:83.0px;width:108px;height:32px"><i style="left:9.8px;top:6.0px;background:#264a78"></i><span class="t" style="left:41.3px;line-height:30.6px;letter-spacing:0.77px">txt</span><span class="n" style="width:38.1px;line-height:30.6px"><span>69</span></span></div>
<div class="hr" style="left:19.7px;right:20.71px;top:137px"></div>
<svg class="abs" style="left:19.9px;top:157.8px" width="31.3" height="32.2" viewBox="0 0 21 21" preserveAspectRatio="none"><path d="M0 1.970 12.300 0v20.840L0 18.830z" fill="#0a64cf"/><path d="M13.120 3.450A2.230 2.230 0 1 1 13.120 7.570z" fill="#0a64cf"/><path d="M13.120 13.430A2.230 2.230 0 1 1 13.120 17.550z" fill="#0a64cf"/><circle cx="18.770" cy="10.500" r="2.230" fill="#0a64cf"/><path d="M14.800 6.200l3.600 4M14.800 14.800l3.600-4" stroke="#0a64cf" stroke-width="1.050" fill="none"/><path d="M7.700 7.900c-.5-.3-1.200-.5-1.900-.5-.8 0-1.200.3-1.200.8 0 .6.500.8 1.500 1.200 1.300.5 2.100 1.200 2.100 2.500 0 1.600-1.300 2.500-3 2.500-.9 0-1.700-.2-2.300-.6l.4-1.400c.6.300 1.300.6 2 .6.800 0 1.300-.4 1.300-.9s-.4-.8-1.400-1.200C3.900 10.400 3 9.700 3 8.500 3 7 4.200 6 5.900 6c.9 0 1.600.2 2.100.5z" fill="#fff" transform="translate(.6 0)"/></svg>
<div class="nm" style="left:56.5px;top:158.45px;letter-spacing:-0.36px">SHAREPOINT_ONLINE</div>
<div class="te" style="left:56.6px;top:174.93px;letter-spacing:0.11px">Total entities: <b>30</b></div>
<div class="badge" style="right:20.71px;top:160.0px;width:114px;height:31px"><i style="left:9px;top:5.5px;background:#4c72ae"></i><span class="t" style="left:41.0px;line-height:29.6px;letter-spacing:0.14px">docx</span><span class="n" style="width:29.3px;line-height:29.6px"><span>7</span></span></div>
<div class="hr" style="left:19.7px;right:20.71px;top:213px"></div>
<svg class="abs" style="left:19.7px;top:235.3px" width="32.7" height="31.6" viewBox="0 0 24 24" preserveAspectRatio="none"><defs><linearGradient id="cg1" x1="0" y1="1" x2="1" y2="0"><stop offset="0" stop-color="#2684ff"/><stop offset="1" stop-color="#0052cc"/></linearGradient><linearGradient id="cg2" x1="1" y1="0" x2="0" y2="1"><stop offset="0" stop-color="#2684ff"/><stop offset="1" stop-color="#0052cc"/></linearGradient></defs><path fill="url(#cg1)" d="M.87 18.257c-.248.382-.53.875-.763 1.245a.764.764 0 0 0 .255 1.040l4.965 3.054a.764.764 0 0 0 1.058-.26c.199-.332.454-.763.733-1.221 1.967-3.247 3.945-2.853 7.508-1.146l4.957 2.337a.764.764 0 0 0 1.028-.382l2.364-5.346a.764.764 0 0 0-.382-1 599.851 599.851 0 0 1-4.965-2.361C10.911 10.970 5.224 11.185.870 18.257z"/><path fill="url(#cg2)" d="M23.131 5.743c.249-.405.531-.875.764-1.250a.764.764 0 0 0-.256-1.034L18.675.404a.764.764 0 0 0-1.058.26c-.195.335-.451.763-.734 1.225-1.966 3.246-3.945 2.850-7.508 1.146L4.437.694a.764.764 0 0 0-1.027.382L1.046 6.422a.764.764 0 0 0 .382 1c1.039.490 3.105 1.467 4.965 2.361 6.698 3.246 12.392 3.029 16.738-4.040z"/></svg>
<div class="nm" style="left:56.5px;top:235.35px;letter-spacing:-0.35px">CONFLUENCE_ON_PREM</div>
<div class="te" style="left:56.6px;top:251.83px;letter-spacing:0.07px">Total entities: <b>3</b></div>
<div class="badge" style="right:20.71px;top:236.0px;width:111px;height:32px"><i style="left:9.9px;top:6.0px;background:#6e8bc6"></i><span class="t" style="left:41.7px;line-height:32.2px;letter-spacing:0.43px">html</span><span class="n" style="width:30.0px;line-height:30.6px"><span>3</span></span></div>
</div>
<svg class="abs" style="left:1172px;top:427px" width="15" height="22" viewBox="0 0 15 22"><path d="M1.500 1.600V17.400L5.500 14.100 8 19.400c.8.700 2.200.200 2.600-1L8.300 13.400l4.400-.100z" fill="#fff" stroke="#1a1a24" stroke-width="1.100" stroke-linejoin="round"/></svg>
<!--/CARDS-->
</body>
</html>
